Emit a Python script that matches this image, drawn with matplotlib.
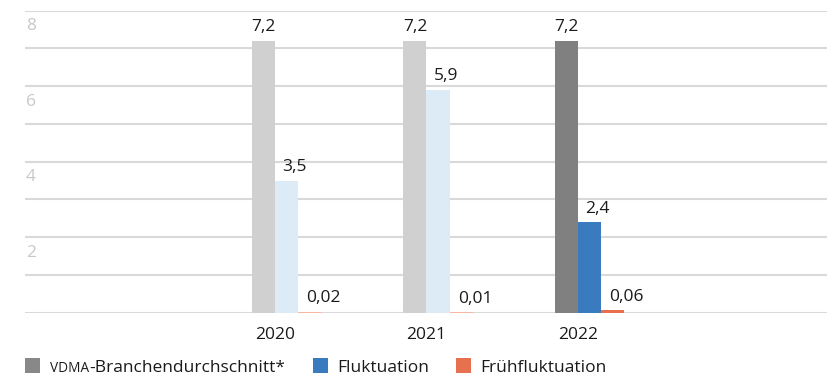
import matplotlib
matplotlib.use("Agg")
import matplotlib.pyplot as plt
from matplotlib.patches import Rectangle
import matplotlib.transforms as mtransforms

plt.rcParams['font.family'] = ['Open Sans', 'DejaVu Sans']

years = ["2020", "2021", "2022"]
series_names = ["VDMA-Branchendurchschnitt*", "Fluktuation", "Frühfluktuation"]
vdma = [7.2, 7.2, 7.2]
fluktuation = [3.5, 5.9, 2.4]
fruehfluktuation = [0.02, 0.01, 0.06]
value_labels = [["7,2", "7,2", "7,2"], ["3,5", "5,9", "2,4"], ["0,02", "0,01", "0,06"]]
ytick_values = [2, 4, 6, 8]
ytick_labels = ["2", "4", "6", "8"]

# colours per year (earlier years faded)
colors = [
    ["#D0D0D0", "#D0D0D0", "#808080"],
    ["#DDEBF7", "#DDEBF7", "#3A7ABF"],
    ["#F4B9A0", "#F4B9A0", "#E8704F"],
]
legend_colors = ["#888888", "#3A7ABF", "#E7704F"]

FS = 12.5
W, H = 828, 377
fig = plt.figure(figsize=(W / 100, H / 100), dpi=100)
ax = fig.add_axes([25 / W, (H - 312.7) / H, (W - 25) / W, (312.7 - 10.7) / H])

w = 0.152
offsets = [-0.5 * w, 0.5 * w, 1.5 * w]
label_dx = [0, 6, 10]  # points
data = [vdma, fluktuation, fruehfluktuation]
for s, vals in enumerate(data):
    xs = [i + offsets[s] for i in range(len(years))]
    ax.bar(xs, vals, width=w, color=colors[s], linewidth=0, zorder=3)
    for x, v, lab in zip(xs, vals, value_labels[s]):
        ax.annotate(lab, (x, v), xytext=(label_dx[s], 4), textcoords="offset points",
                    ha="center", va="bottom", fontsize=FS, color="#1a1a1a", zorder=4)

ax.set_xlim(-1.65, 3.65)
ax.set_ylim(0, 8)
ax.set_yticks(range(0, 9))
ax.yaxis.grid(True, color="#D9D9D9", linewidth=1.5, zorder=0)
ax.tick_params(axis="y", length=0, labelleft=False)
ax.set_xticks(range(len(years)))
ax.set_xticklabels(years, fontsize=FS, color="#1a1a1a")
ax.tick_params(axis="x", length=0, pad=10.5)
for sp in ax.spines.values():
    sp.set_visible(False)

# y tick labels sit just below their gridline at the left
off = mtransforms.ScaledTranslation(1 / 100, -7.5 / 100, fig.dpi_scale_trans)
trans = mtransforms.blended_transform_factory(ax.transAxes, ax.transData) + off
for v, lab in zip(ytick_values, ytick_labels):
    ax.text(0, v, lab, transform=trans, ha="left", va="top", fontsize=FS, color="#C8C8C8")

# legend
sq_y = (H - 373) / H
sq_h = 15 / H
sq_w = 15 / W
base_y = (H - 372) / H
# item 1
fig.add_artist(Rectangle((25 / W, sq_y), sq_w, sq_h, transform=fig.transFigure,
                         facecolor=legend_colors[0], edgecolor="none"))
t1 = fig.text(50 / W, base_y, "VDMA", fontsize=9.8, color="#1a1a1a", va="baseline")
ax.annotate("-Branchendurchschnitt*", xy=(1, 0), xycoords=t1, xytext=(0, 0),
            textcoords="offset points", fontsize=FS, color="#1a1a1a",
            va="bottom", ha="left", annotation_clip=False)
# item 2
fig.add_artist(Rectangle((313 / W, sq_y), sq_w, sq_h, transform=fig.transFigure,
                         facecolor=legend_colors[1], edgecolor="none"))
fig.text(337 / W, base_y, series_names[1], fontsize=FS, color="#1a1a1a", va="baseline")
# item 3
fig.add_artist(Rectangle((456 / W, sq_y), sq_w, sq_h, transform=fig.transFigure,
                         facecolor=legend_colors[2], edgecolor="none"))
fig.text(480 / W, base_y, series_names[2], fontsize=FS, color="#1a1a1a", va="baseline")

fig.savefig("out.png", dpi=100)
